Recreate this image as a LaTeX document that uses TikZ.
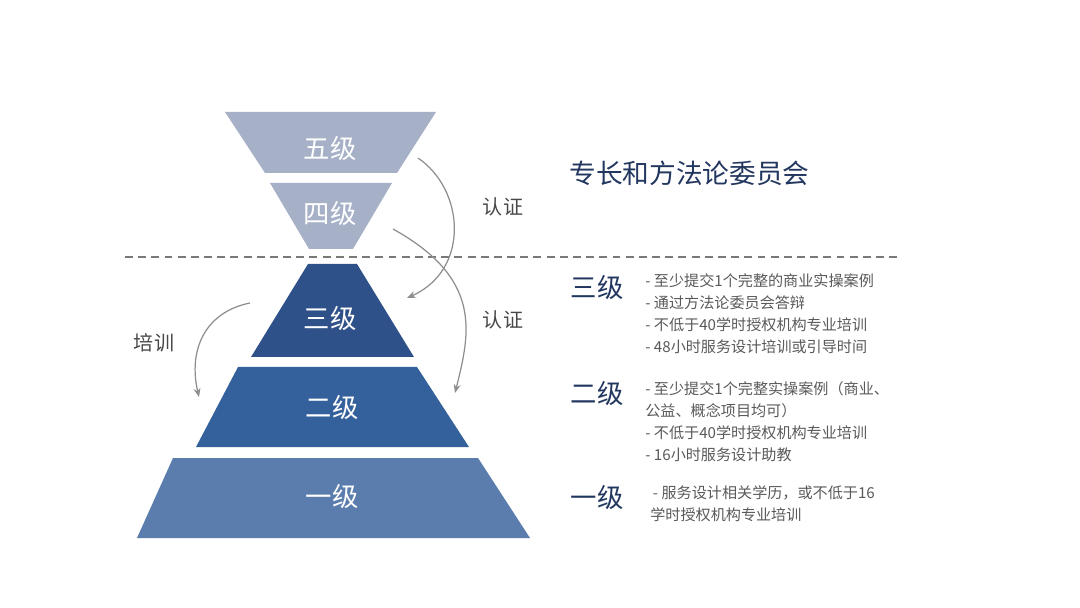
\documentclass[tikz,border=0pt]{standalone}
\usepackage{fontspec}
\newfontfamily\cjk{Noto Sans CJK SC}
\usepackage{tikz}
\usetikzlibrary{arrows.meta}
\definecolor{lvtop}{HTML}{A6B1C8}
\definecolor{lvthree}{HTML}{2F5189}
\definecolor{lvtwo}{HTML}{34609B}
\definecolor{lvone}{HTML}{5A7DAD}
\definecolor{navy}{HTML}{22375F}
\definecolor{bodygray}{HTML}{595959}
\definecolor{arrgray}{HTML}{8E8E8E}

\begin{document}
\begin{tikzpicture}[x=0.02cm,y=-0.02cm,>=Stealth,
    lvlabel/.style={text=white,font=\cjk\fontsize{15}{18}\selectfont},
    sidelabel/.style={text=navy,font=\cjk\fontsize{15}{18}\selectfont},
    note/.style={text=bodygray,font=\cjk\fontsize{8.6}{12.5}\selectfont,align=left,anchor=west,inner sep=0pt},
    tag/.style={text=bodygray!80!black,font=\cjk\fontsize{11.4}{14}\selectfont},
    arr/.style={->,draw=arrgray,line width=0.7pt,-{Stealth[length=5pt,width=4pt]}}]
            \useasboundingbox (0,0) rectangle (1080,608);
            \fill [lvtop] (225,112) -- (436,112) -- (397,173) -- (265,173) -- cycle;
            \fill [lvtop] (270,183) -- (392,183) -- (353,249) -- (309,249) -- cycle;
            \fill [lvthree] (308,264) -- (357,264) -- (414,357) -- (251,357) -- cycle;
            \fill [lvtwo] (238,367) -- (417,367) -- (469,447) -- (196,447) -- cycle;
            \fill [lvone] (173,458) -- (478,458) -- (530,538) -- (137,538) -- cycle;
            \draw [arrgray!85!black,line width=0.6pt,dash pattern=on 4.5pt off 3pt] (125,257) -- (897,257);
            \node [lvlabel] (lvfive) at (330,148) {五级};
            \node [lvlabel] (lvfour) at (330,213) {四级};
            \node [lvlabel] (lvthree) at (330,318) {三级};
            \node [lvlabel] (lvtwo) at (332,407) {二级};
            \node [lvlabel] (lvone) at (332,496) {一级};
            \coordinate (upfrom) at (418,158);
            \coordinate (upto) at (407,298);
            \coordinate (midfrom) at (393,229);
            \coordinate (midto) at (455,393);
            \coordinate (trainfrom) at (250,303);
            \coordinate (trainto) at (199,397);
            \draw [arr] (upfrom) .. controls (465,190) and (470,270) .. (upto);
            \draw [arr] (midfrom) .. controls (483,279) and (470,333) .. (midto);
            \draw [arr] (trainfrom) .. controls (205,312) and (188,350) .. (trainto);
            \node [tag] (certup) at (503,207) {认证};
            \node [tag] (certmid) at (503,320) {认证};
            \node [tag] (train) at (154,343) {培训};
            \node [text=navy,font=\cjk\fontsize{15.2}{18}\selectfont,anchor=west,inner sep=0pt] (board) at (569,173) {专长和方法论委员会};
            \node [sidelabel] (sidethree) at (597,287) {三级};
            \node [sidelabel] (sidetwo) at (597,393) {二级};
            \node [sidelabel] (sideone) at (597,497) {一级};
            \node [note] (notethree) at (645,313.5) {- 至少提交1个完整的商业实操案例\\- 通过方法论委员会答辩\\- 不低于40学时授权机构专业培训\\- 48小时服务设计培训或引导时间};
            \node [note] (notetwo) at (645,421.5) {- 至少提交1个完整实操案例（商业、\\公益、概念项目均可）\\- 不低于40学时授权机构专业培训\\- 16小时服务设计助教};
            \node [note] (noteone) at (650,503.5) {\hspace{1.5pt}- 服务设计相关学历，或不低于16\\学时授权机构专业培训};
        \end{tikzpicture}
\end{document}
